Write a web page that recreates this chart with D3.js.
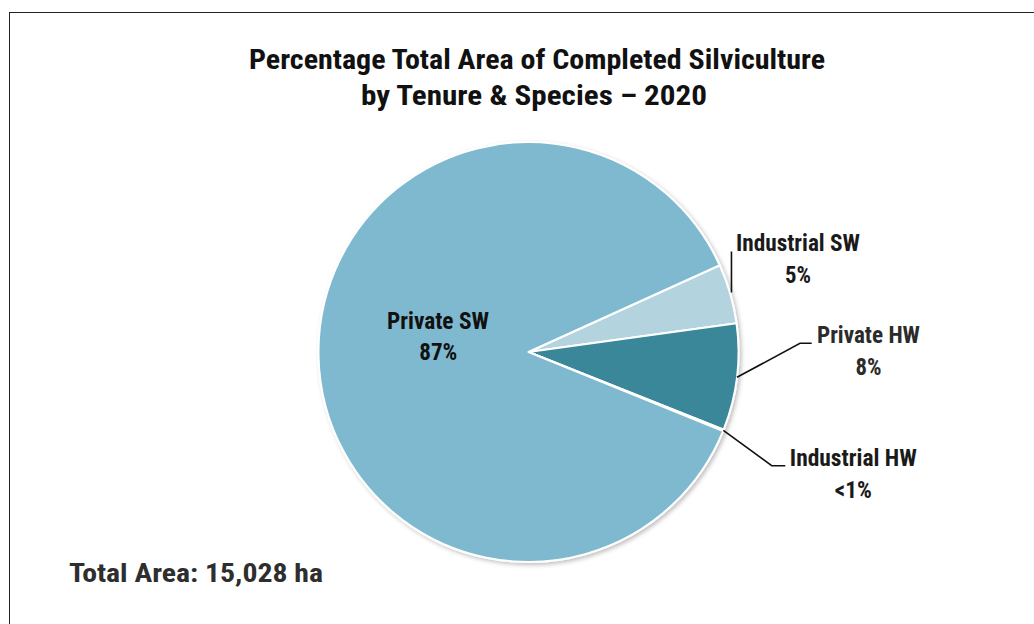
<!DOCTYPE html>
<html><head><meta charset="utf-8">
<script src="https://cdn.jsdelivr.net/npm/d3@7"></script>
<style>html,body{margin:0;padding:0;background:#fff}svg{display:block}</style>
</head><body>
<svg id="chart" width="1034" height="624"></svg>
<script>
const categories = ["Industrial SW", "Private HW", "Industrial HW", "Private SW"];
const values = [4.6, 8.2, 0.12, 87.08];
const pctLabels = ["5%", "8%", "<1%", "87%"];
const colors = ["#b3d4df", "#3a879a", "#3a879a", "#7eb9cf"];
const titleLines = ["Percentage Total Area of Completed Silviculture", "by Tenure & Species \u2013 2020"];
const totalText = "Total Area: 15,028 ha";

const svg = d3.select("#chart");
const FONT = "'Roboto Condensed', Roboto, 'Liberation Sans Narrow', sans-serif";

svg.append("rect").attr("x", 9.5).attr("y", 12.5).attr("width", 1060).attr("height", 640)
  .attr("fill", "#fff").attr("stroke", "#222").attr("stroke-width", 1);

const defs = svg.append("defs");
const f = defs.append("filter").attr("id", "sh").attr("x", "-20%").attr("y", "-20%").attr("width", "140%").attr("height", "140%");
f.append("feDropShadow").attr("dx", 2).attr("dy", 2).attr("stdDeviation", 2).attr("flood-color", "#000").attr("flood-opacity", 0.25);

const cx = 528.5, cy = 352, r = 210;
const start = 65.6 * Math.PI / 180;
const pie = d3.pie().sort(null).value(d => d).startAngle(start).endAngle(start + 2 * Math.PI);
const arcs = pie(values);
const arc = d3.arc().innerRadius(0).outerRadius(r);

const g = svg.append("g").attr("transform", `translate(${cx},${cy})`);
g.append("g").attr("filter", "url(#sh)").selectAll("path").data(arcs).join("path")
  .attr("d", arc).attr("fill", (d, i) => colors[i])
  .attr("stroke", "#fff").attr("stroke-width", 2).attr("stroke-linejoin", "round");

function rim(a, t, rr) {
  const ang = a.startAngle + (a.endAngle - a.startAngle) * t;
  return [cx + rr * Math.sin(ang), cy - rr * Math.cos(ang)];
}

const labelSpec = [
  {name: {x: 798, y: 250.5, w: 124}, pct: {x: 798, y: 282.5, w: 26}, color: "#1a1a1a"},
  {name: {x: 868.5, y: 342.5, w: 103}, pct: {x: 868.5, y: 374.5, w: 26}, color: "#2b2b2b"},
  {name: {x: 853.3, y: 465.5, w: 127}, pct: {x: 853.3, y: 497.5, w: 37}, color: "#1a1a1a"},
  {name: {x: 438, y: 328.5, w: 102}, pct: {x: 438.3, y: 360, w: 38}, color: "#111"}
];

const lines = svg.append("g").attr("fill", "none").attr("stroke", "#111").attr("stroke-width", 1.6);
{
  const p = rim(arcs[0], 0.45, r - 2);
  lines.append("path").attr("d", d3.line()([[p[0] + 4, 251.5], [p[0] + 4, 292.5]]));
}
{
  const p = rim(arcs[1], 0.5, r);
  lines.append("path").attr("d", d3.line()([p, [800, 343.3], [811.7, 343.3]]));
}
{
  const p = rim(arcs[2], 0.5, r);
  lines.append("path").attr("d", d3.line()([p, [771.7, 465.7], [785.3, 465.7]]));
}

const lab = svg.append("g").attr("font-family", FONT).attr("font-weight", 700).attr("font-size", 23.5).attr("text-anchor", "middle");
labelSpec.forEach((s, i) => {
  lab.append("text").attr("x", s.name.x).attr("y", s.name.y).attr("fill", s.color)
    .attr("textLength", s.name.w).attr("lengthAdjust", "spacingAndGlyphs").text(categories[i]);
  lab.append("text").attr("x", s.pct.x).attr("y", s.pct.y).attr("fill", s.color)
    .attr("textLength", s.pct.w).attr("lengthAdjust", "spacingAndGlyphs").text(pctLabels[i]);
});

const t = svg.append("g").attr("font-family", FONT).attr("font-weight", 700).attr("font-size", 28).attr("text-anchor", "middle").attr("fill", "#111");
t.append("text").attr("x", 537).attr("y", 69).attr("textLength", 576).attr("lengthAdjust", "spacingAndGlyphs").text(titleLines[0]);
t.append("text").attr("x", 534).attr("y", 104.5).attr("textLength", 346).attr("lengthAdjust", "spacingAndGlyphs").text(titleLines[1]);

svg.append("text").attr("x", 69).attr("y", 582).attr("font-family", FONT).attr("font-weight", 700).attr("font-size", 25)
  .attr("fill", "#2e2e2e").attr("textLength", 254).attr("lengthAdjust", "spacingAndGlyphs").text(totalText);
</script>
</body></html>
